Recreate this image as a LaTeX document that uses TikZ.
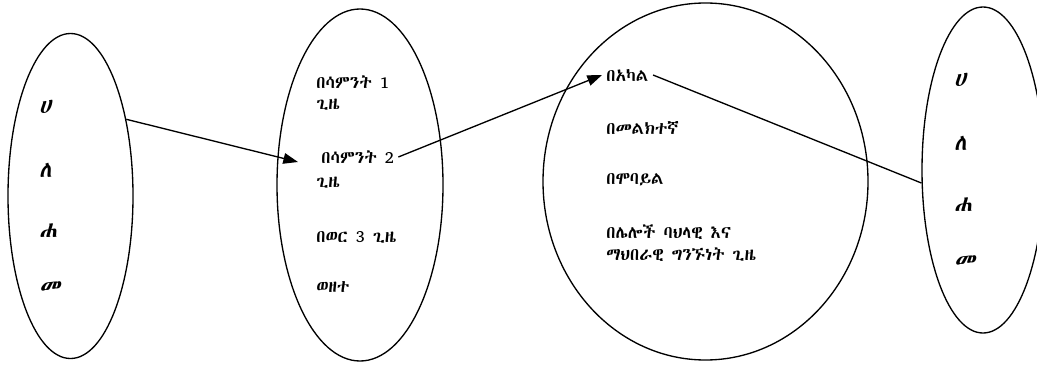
\documentclass[tikz,border=0pt]{standalone}
\usepackage{fontspec}
\IfFontExistsTF{Abyssinica SIL}{\def\geezname{Abyssinica SIL}}{%
  \IfFontExistsTF{FreeSerif}{\def\geezname{FreeSerif}}{\def\geezname{DejaVu Sans}}}
\newfontfamily\geez{\geezname}
\newfontfamily\geezsl[FakeSlant=0.15]{\geezname}
\usetikzlibrary{shapes.geometric,arrows.meta}

\tikzset{
  oval/.style={draw, ellipse, line width=1pt, inner sep=0pt},
  item/.style={anchor=west, inner sep=3pt, font=\geez\fontsize{13}{15}\selectfont},
  letter/.style={anchor=west, inner sep=0pt, font=\geezsl\fontsize{17}{19}\selectfont},
  link/.style={line width=1pt, -{Triangle[length=11pt,width=8pt]}}
}

\begin{document}
\begin{tikzpicture}[x=0.75pt,y=-0.75pt]
  \useasboundingbox (0,0) rectangle (1037,364);
  % the four groups
  \node[oval, minimum width=93.75pt, minimum height=243.75pt] (lft) at (70.5,196) {};
  \node[oval, minimum width=124.5pt, minimum height=264pt] (mid) at (360,185) {};
  \node[oval, minimum width=243.75pt, minimum height=267.75pt] (cir) at (705.5,181.5) {};
  \node[oval, minimum width=91.5pt, minimum height=244.5pt] (rgt) at (983,170) {};

  % letters in the side ovals
  \foreach \ch/\y [count=\i] in {ሀ/107, ለ/170, ሐ/231, መ/288}
    \node[letter] (l\i) at (39,\y) {\ch};
  \foreach \ch/\y [count=\i] in {ሀ/80, ለ/143, ሐ/205, መ/262}
    \node[letter] (r\i) at (954,\y) {\ch};

  % how often
  \node[item] (wk1) at (312,82) {በሳምንት 1};
  \node[item] (wk1b) at (312,105) {ጊዜ};
  \node[item] (wk2) at (317,157) {በሳምንት 2};
  \node[item] (wk2b) at (312,183) {ጊዜ};
  \node[item] (mon) at (312,237) {በወር 3 ጊዜ};
  \node[item] (etc) at (312,287) {ወዘተ};

  % by what means
  \node[item] (f2f) at (602,75) {በአካል};
  \node[item] (msg) at (602,128) {በመልክተኛ};
  \node[item] (mob) at (602,180) {በሞባይል};
  \node[item] (oth) at (602,232) {በሌሎች ባህላዊ እና};
  \node[item] (othb) at (602,255) {ማህበራዊ ግንኙነት ጊዜ};

  % connectors
  \coordinate (in1) at (298,162);
  \draw[link] (lft.54) -- (in1);
  \draw[link] (wk2.east) -- (f2f.west);
  \draw[line width=1pt] (f2f.east) -- (rgt.192);
\end{tikzpicture}
\end{document}
